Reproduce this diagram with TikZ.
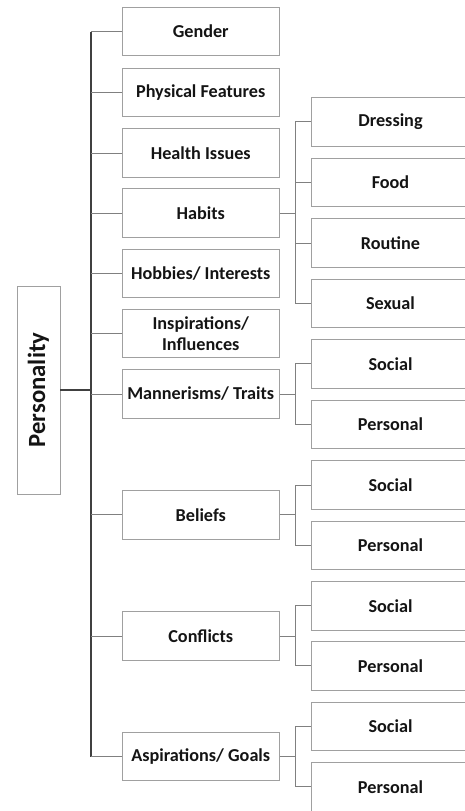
\documentclass[tikz,border=0pt]{standalone}
\usepackage{fontspec}
\setmainfont{Carlito}
\definecolor{boxgray}{HTML}{A0A0A0}
\definecolor{linegray}{HTML}{808080}
\definecolor{trunkgray}{HTML}{404040}
\definecolor{txt}{HTML}{141414}
\begin{document}
\begin{tikzpicture}[x=1pt,y=-1pt,
  midbox/.style={draw=boxgray,line width=0.9pt,minimum width=157.5pt,minimum height=48.5pt,inner sep=0pt,align=center,text=txt,font=\fontsize{18.2}{20.5}\selectfont\bfseries},
  subbox/.style={draw=boxgray,line width=0.9pt,minimum width=159pt,minimum height=48.5pt,inner sep=0pt,text=txt,font=\fontsize{18.2}{20.5}\selectfont\bfseries},
  rootbox/.style={draw=boxgray,line width=0.9pt,minimum width=43pt,minimum height=208pt,inner sep=0pt},
  branch/.style={draw=linegray,line width=0.9pt},
  trunk/.style={draw=trunkgray,line width=1.2pt}]
\useasboundingbox (0,0) rectangle (464,811);
% root
\node[rootbox] (P) at (38.5,390) {};
\node[rotate=90,text=txt,font=\fontsize{24.7}{26}\selectfont\bfseries] (Pt) at (P.center) {Personality};
% middle boxes
\node[midbox] (G)  at (200.75,31.5)  {Gender};
\node[midbox] (PF) at (200.75,92.5)  {Physical Features};
\node[midbox] (HI) at (200.75,153)   {Health Issues};
\node[midbox] (HA) at (200.75,213)   {Habits};
\node[midbox] (HO) at (200.75,273.5) {Hobbies/ Interests};
\node[midbox] (IN) at (200.75,333.5) {Inspirations/\\Influences};
\node[midbox] (MA) at (200.75,394)   {Mannerisms/ Traits};
\node[midbox] (BE) at (200.75,514.8) {Beliefs};
\node[midbox] (CO) at (200.75,636)   {Conflicts};
\node[midbox] (AS) at (200.75,756.5) {Aspirations/ Goals};
% sub boxes
\node[subbox] (D)  at (390.5,121.7) {Dressing};
\node[subbox] (F)  at (390.5,182.3) {Food};
\node[subbox] (R)  at (390.5,243)   {Routine};
\node[subbox] (S)  at (390.5,303.6) {Sexual};
\node[subbox] (MS) at (390.5,363.9) {Social};
\node[subbox] (MP) at (390.5,424.5) {Personal};
\node[subbox] (BS) at (390.5,485)   {Social};
\node[subbox] (BP) at (390.5,545.5) {Personal};
\node[subbox] (CS) at (390.5,605.7) {Social};
\node[subbox] (CP) at (390.5,665.8) {Personal};
\node[subbox] (AS1) at (390.5,726.2) {Social};
\node[subbox] (AP) at (390.5,786.7) {Personal};
% trunk
\coordinate (tt) at (91,31.5);
\coordinate (tb) at (91,756.5);
\path[trunk] (tt) -- (tb);
\path[trunk] (P.east) -- (P.east -| tt);
\foreach \n in {G,PF,HI,HA,HO,IN,MA,BE,CO,AS}{
  \path[branch] (tt |- \n.west) -- (\n.west);
}
% sub-branch spine coordinates
\coordinate (sx) at (295,0);
\path[branch] (HA.east) -- (HA.east -| sx);
\path[branch] (D.west -| sx) -- (S.west -| sx);
\foreach \n in {D,F,R,S}{ \path[branch] (\n.west -| sx) -- (\n.west); }
\foreach \m/\a/\b in {MA/MS/MP,BE/BS/BP,CO/CS/CP,AS/AS1/AP}{
  \path[branch] (\m.east) -- (\m.east -| sx);
  \path[branch] (\a.west -| sx) -- (\b.west -| sx);
  \path[branch] (\a.west -| sx) -- (\a.west);
  \path[branch] (\b.west -| sx) -- (\b.west);
}
\end{tikzpicture}
\end{document}
